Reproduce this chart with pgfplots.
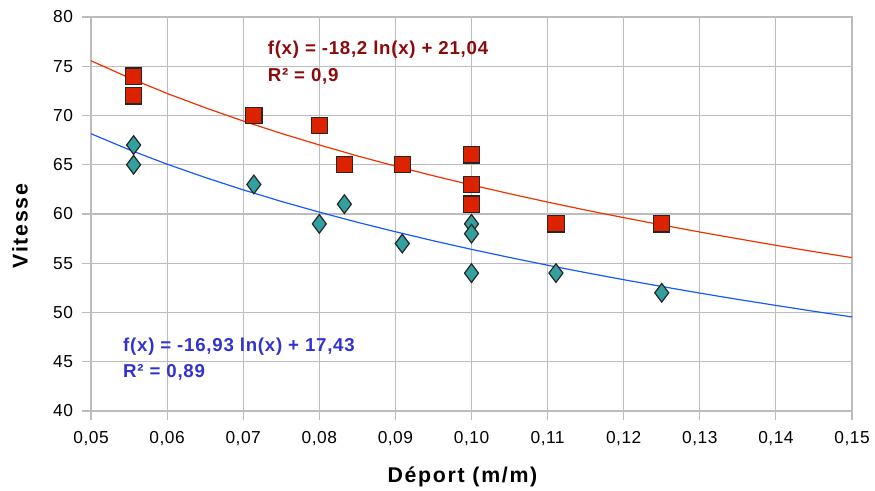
\documentclass[border=0pt]{standalone}
\usepackage{fontspec}
\setmainfont{Liberation Sans}
\newfontfamily\labfont[LetterSpace=8]{Liberation Sans}
\newfontfamily\annfont[LetterSpace=4]{Liberation Sans}
\newfontfamily\tickfont[LetterSpace=3]{Liberation Sans}
\usepackage{pgfplots}
\pgfplotsset{compat=1.18}
\definecolor{sqred}{RGB}{221,34,0}
\definecolor{teal2}{RGB}{51,160,160}
\definecolor{redline}{RGB}{240,50,0}
\definecolor{blueline}{RGB}{20,90,255}
\definecolor{txtred}{RGB}{140,10,10}
\definecolor{txtblue}{RGB}{50,50,210}
\definecolor{gridgray}{RGB}{188,188,188}
\begin{document}
\begin{tikzpicture}
\useasboundingbox (-68.25pt,-59.25pt) rectangle (588pt,308.25pt);
\begin{axis}[
  scale only axis, width=570.75pt, height=295.5pt,
  xmin=0.05, xmax=0.15, ymin=40, ymax=80,
  xtick={0.05,0.06,...,0.151}, ytick={40,45,...,80},
  grid=major, major grid style={gridgray, line width=0.8pt},
  axis line style={gridgray, line width=0.8pt},
  tick style={gridgray, line width=0.8pt}, tick align=outside, major tick length=7pt,
  tick pos=left,
  /pgf/number format/assume math mode=true,
  ticklabel style={font=\tickfont\fontsize{13}{15}\selectfont},
  xticklabel style={yshift=-5pt, /pgf/number format/fixed, /pgf/number format/fixed zerofill, /pgf/number format/precision=2, /pgf/number format/use comma},
  yticklabel style={xshift=-3pt},
  clip=false,
]
\addplot[only marks, mark=square*, mark size=6.1pt, mark options={fill=sqred, draw=black!85, line width=0.9pt}] coordinates {
(0.0556,74)(0.0556,72)(0.0714,70)(0.08,69)(0.0833,65)(0.0909,65)(0.1,66)(0.1,63)(0.1,61)(0.1111,59)(0.125,59)};
\addplot[only marks, mark=diamond*, mark size=7pt, mark options={fill=teal2, draw=black!85, line width=0.9pt}] coordinates {
(0.0556,67)(0.0556,65)(0.0714,63)(0.08,59)(0.0833,61)(0.0909,57)(0.1,59)(0.1,58)(0.1,54)(0.1111,54)(0.125,52)};
\addplot[redline, line width=0.9pt] coordinates {
(0.05,75.56)(0.055,73.83)(0.06,72.24)(0.065,70.79)(0.07,69.44)(0.075,68.18)(0.08,67.01)(0.085,65.90)(0.09,64.86)(0.095,63.88)(0.10,62.95)(0.105,62.06)(0.11,61.21)(0.115,60.40)(0.12,59.63)(0.125,58.89)(0.13,58.17)(0.135,57.49)(0.14,56.82)(0.145,56.18)(0.15,55.57)};
\addplot[blueline, line width=0.9pt] coordinates {
(0.05,68.15)(0.055,66.53)(0.06,65.06)(0.065,63.71)(0.07,62.45)(0.075,61.28)(0.08,60.19)(0.085,59.16)(0.09,58.20)(0.095,57.28)(0.10,56.41)(0.105,55.59)(0.11,54.80)(0.115,54.05)(0.12,53.33)(0.125,52.64)(0.13,51.97)(0.135,51.33)(0.14,50.72)(0.145,50.12)(0.15,49.55)};
\node[anchor=west, text=txtred, font=\annfont\bfseries\fontsize{14}{16}\selectfont, inner sep=0pt] at (axis cs:0.0732,76.7) {f(x) = -18,2 ln(x) + 21,04};
\node[anchor=west, text=txtred, font=\annfont\bfseries\fontsize{14}{16}\selectfont, inner sep=0pt] at (axis cs:0.0732,74.0) {R² = 0,9};
\node[anchor=west, text=txtblue, font=\annfont\bfseries\fontsize{14}{16}\selectfont, inner sep=0pt] at (axis cs:0.0542,46.5) {f(x) = -16,93 ln(x) + 17,43};
\node[anchor=west, text=txtblue, font=\annfont\bfseries\fontsize{14}{16}\selectfont, inner sep=0pt] at (axis cs:0.0542,43.9) {R² = 0,89};
\end{axis}
\node[font=\labfont\bfseries\fontsize{16}{18}\selectfont] at (278.6pt,-49.5pt) {Déport (m/m)};
\node[rotate=90, font=\labfont\bfseries\fontsize{16}{18}\selectfont] at (-53.25pt,138.75pt) {Vitesse};
\end{tikzpicture}
\end{document}
